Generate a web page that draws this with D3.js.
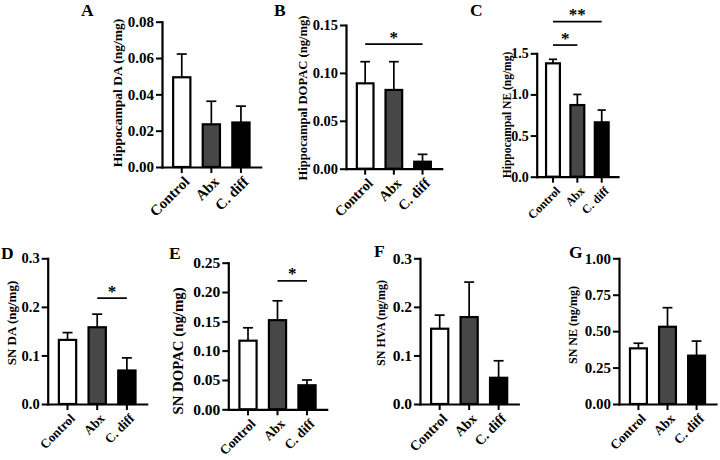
<!DOCTYPE html>
<html>
<head>
<meta charset="utf-8">
<script src="https://cdn.jsdelivr.net/npm/d3@7"></script>
<style>
  html, body { margin: 0; padding: 0; background: #fff; }
  svg { display: block; }
  text { font-family: "Liberation Serif", "Times New Roman", serif; font-weight: bold; fill: #000; }
</style>
</head>
<body>
<svg id="chart" width="720" height="460"></svg>
<script>
// ---------- data ----------
const categories = ["Control", "Abx", "C. diff"];
const panelIds = ["A", "B", "C", "D", "E", "F", "G"];
const yTitles = [
  "Hippocampal DA (ng/mg)",
  "Hippocampal DOPAC (ng/mg)",
  "Hippocampal NE (ng/mg)",
  "SN DA (ng/mg)",
  "SN DOPAC (ng/mg)",
  "SN HVA (ng/mg)",
  "SN NE (ng/mg)"
];

// means per group (Control, Abx, C. diff)
const meanA = [0.0494, 0.0235, 0.0245];
const meanB = [0.0891, 0.0822, 0.0073];
const meanC = [1.378, 0.871, 0.661];
const meanD = [0.132, 0.158, 0.069];
const meanE = [0.117, 0.152, 0.041];
const meanF = [0.155, 0.179, 0.054];
const meanG = [0.382, 0.530, 0.332];

// SEM (upper error bar length)
const semA = [0.0128, 0.0127, 0.0090];
const semB = [0.0226, 0.0295, 0.0077];
const semC = [0.049, 0.129, 0.149];
const semD = [0.015, 0.027, 0.026];
const semE = [0.022, 0.033, 0.009];
const semF = [0.028, 0.072, 0.035];
const semG = [0.035, 0.131, 0.100];

// y tick values
const ticksA = [0, 0.02, 0.04, 0.06, 0.08];
const ticksB = [0, 0.05, 0.10, 0.15];
const ticksC = [0, 0.5, 1.0, 1.5];
const ticksD = [0, 0.1, 0.2, 0.3];
const ticksE = [0, 0.05, 0.10, 0.15, 0.20, 0.25];
const ticksF = [0, 0.1, 0.2, 0.3];
const ticksG = [0, 0.25, 0.50, 0.75, 1.00];
const tickFormats = [".2f", ".2f", ".1f", ".1f", ".2f", ".1f", ".2f"];

// significance brackets
const sigPanels = ["B", "C", "C", "D", "E"];
const sigFrom   = ["Control", "Control", "Control", "Abx", "Abx"];
const sigTo     = ["C. diff", "Abx", "C. diff", "C. diff", "C. diff"];
const sigLevel  = [0.130, 1.60, 1.884, 0.218, 0.219];
const sigText   = ["*", "*", "**", "*", "*"];

// ---------- layout (positions / styles only) ----------
const layout = {
  A: { x0: 162,   x1: 260.7, yTop: 21.7,  yBot: 167,   titleX: 44.5, titleY: 93,  titleSize: 13.5, tickSize: 15,   xlabSize: 14.8, letter: [81, 16] },
  B: { x0: 346,   x1: 441.7, yTop: 25,    yBot: 168.7, titleX: 43.5, titleY: 98,  titleSize: 12.6, tickSize: 14.5, xlabSize: 14.2, letter: [274, 16] },
  C: { x0: 536.7, x1: 618,   yTop: 53.3,  yBot: 176.7, titleX: 29.7, titleY: 115, titleSize: 11.5, tickSize: 14,   xlabSize: 12,   letter: [470, 16] },
  D: { x0: 47.7,  x1: 146.7, yTop: 258.3, yBot: 404,   titleX: 36.7, titleY: 323, titleSize: 13,   tickSize: 14.5, xlabSize: 13,   letter: [1, 259] },
  E: { x0: 228.3, x1: 326.7, yTop: 262.7, yBot: 409.3, titleX: 50.3, titleY: 351, titleSize: 14.8, tickSize: 15.5, xlabSize: 13.3, letter: [169, 259] },
  F: { x0: 420,   x1: 518.3, yTop: 258.3, yBot: 404,   titleX: 39,   titleY: 323, titleSize: 12,   tickSize: 15.5, xlabSize: 14,   letter: [374, 257] },
  G: { x0: 619,   x1: 716,   yTop: 258.3, yBot: 404,   titleX: 46,   titleY: 325, titleSize: 12,   tickSize: 15,   xlabSize: 13.3, letter: [569, 258] }
};
const barFills = ["#ffffff", "#474747", "#000000"];

const meanList = [meanA, meanB, meanC, meanD, meanE, meanF, meanG];
const semList  = [semA, semB, semC, semD, semE, semF, semG];
const tickList = [ticksA, ticksB, ticksC, ticksD, ticksE, ticksF, ticksG];

// ---------- drawing ----------
const svg = d3.select("#chart");

panelIds.forEach((id, i) => {
  const L = layout[id];
  const means = meanList[i], sems = semList[i], ticks = tickList[i];
  const g = svg.append("g").attr("class", "panel-" + id);

  const y = d3.scaleLinear().domain([0, d3.max(ticks)]).range([L.yBot, L.yTop]);
  const x = d3.scaleBand().domain(categories).range([L.x0, L.x1])
    .paddingInner(0.35).paddingOuter(0.343);
  const bw = x.bandwidth();
  const rows = categories.map((c, j) => ({ c, m: means[j], s: sems[j], fill: barFills[j] }));

  // error bars (upper only)
  const eb = g.append("g").selectAll("g").data(rows).join("g");
  eb.append("line")
    .attr("x1", d => x(d.c) + bw / 2).attr("x2", d => x(d.c) + bw / 2)
    .attr("y1", d => y(d.m)).attr("y2", d => y(d.m + d.s))
    .attr("stroke", "#000").attr("stroke-width", 1.7);
  eb.append("line")
    .attr("x1", d => x(d.c) + bw / 2 - bw * 0.26).attr("x2", d => x(d.c) + bw / 2 + bw * 0.26)
    .attr("y1", d => y(d.m + d.s)).attr("y2", d => y(d.m + d.s))
    .attr("stroke", "#000").attr("stroke-width", 1.7);

  // bars
  g.append("g").selectAll("rect").data(rows).join("rect")
    .attr("x", d => x(d.c) + 1)
    .attr("width", bw - 2)
    .attr("y", d => y(d.m))
    .attr("height", d => y(0) - y(d.m))
    .attr("fill", d => d.fill)
    .attr("stroke", "#000").attr("stroke-width", 2.2);

  // y axis
  const yAxis = g.append("g").attr("transform", `translate(${L.x0},0)`)
    .call(d3.axisLeft(y).tickValues(ticks).tickFormat(d3.format(tickFormats[i]))
      .tickSize(6).tickSizeOuter(0).tickPadding(2));
  yAxis.select(".domain").attr("stroke-width", 2.2).attr("stroke-linecap", "square");
  yAxis.selectAll(".tick line").attr("stroke-width", 2);
  yAxis.selectAll(".tick text").attr("font-size", L.tickSize)
    .attr("font-family", "Liberation Serif, Times New Roman, serif").attr("font-weight", "bold");

  // x axis
  const xAxis = g.append("g").attr("transform", `translate(0,${L.yBot})`)
    .call(d3.axisBottom(x).tickSize(6).tickSizeOuter(0));
  xAxis.select(".domain").attr("stroke-width", 2.2).attr("stroke-linecap", "square");
  xAxis.selectAll(".tick line").attr("stroke-width", 2);
  xAxis.selectAll(".tick text")
    .attr("font-size", L.xlabSize)
    .attr("font-family", "Liberation Serif, Times New Roman, serif").attr("font-weight", "bold")
    .attr("x", 0).attr("y", 0).attr("dy", "0.35em")
    .attr("transform", "translate(5,12) rotate(-45)")
    .attr("text-anchor", "end");

  // y title
  g.append("text")
    .attr("transform", `translate(${L.x0 - L.titleX},${L.titleY}) rotate(-90)`)
    .attr("text-anchor", "middle").attr("dy", "0.35em")
    .attr("font-size", L.titleSize)
    .text(yTitles[i]);

  // panel letter
  g.append("text")
    .attr("x", L.letter[0]).attr("y", L.letter[1])
    .attr("font-size", 17.5)
    .text(id);

  // significance
  sigPanels.forEach((p, k) => {
    if (p !== id) return;
    const xa = x(sigFrom[k]) + bw / 2, xb = x(sigTo[k]) + bw / 2, ys = y(sigLevel[k]);
    g.append("line").attr("x1", xa).attr("x2", xb).attr("y1", ys).attr("y2", ys)
      .attr("stroke", "#000").attr("stroke-width", 1.7);
    g.append("text").attr("x", (xa + xb) / 2).attr("y", ys - 1.5)
      .attr("text-anchor", "middle").attr("font-size", 17)
      .text(sigText[k]);
  });
});
</script>
</body>
</html>
